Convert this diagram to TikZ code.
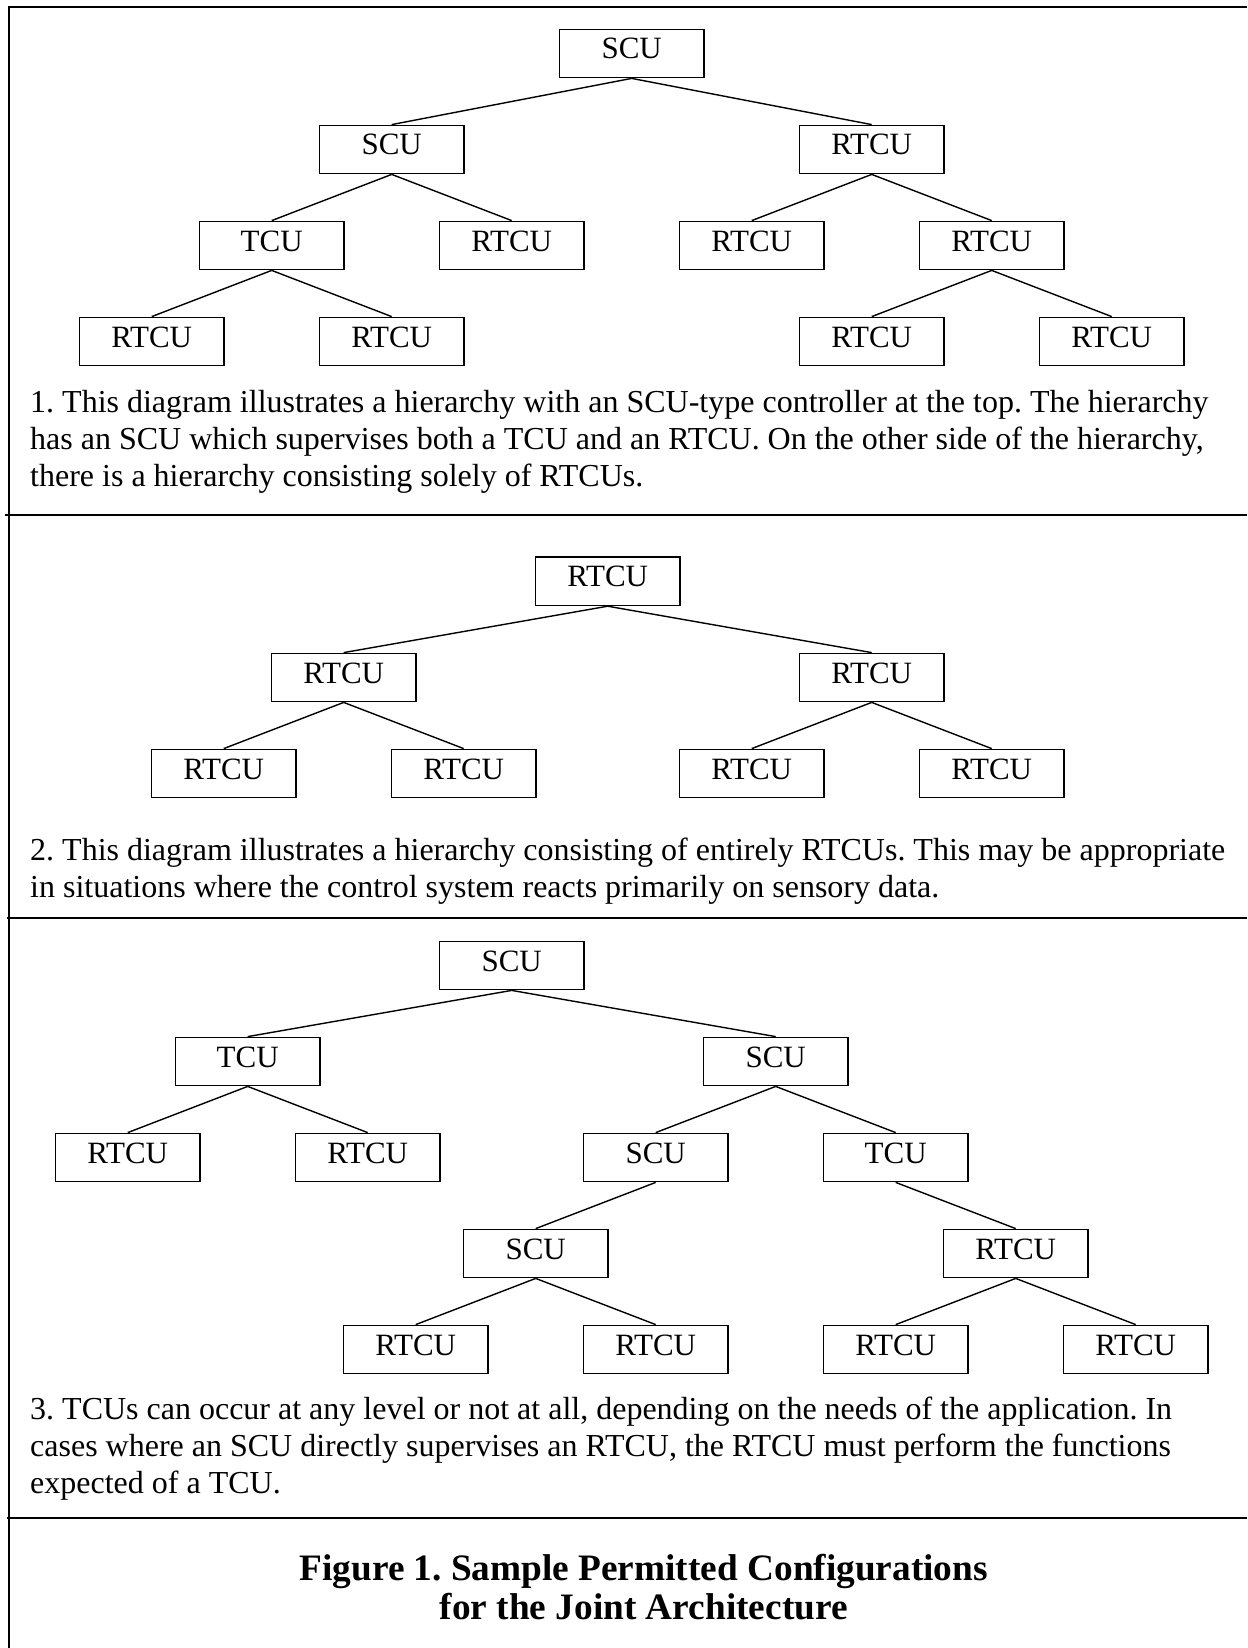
\documentclass[tikz,border=0pt]{standalone}
\usepackage{fontspec}
\setmainfont{Liberation Serif}
\frenchspacing
\begin{document}
\begin{tikzpicture}[x=1pt,y=-1pt,
  unit/.style={draw, line width=1.4pt, minimum width=144.7pt, minimum height=48.4pt,
    inner sep=0pt, font=\fontsize{31}{31}\selectfont, text height=21pt, text depth=10pt},
  link/.style={line width=1.4pt},
  rule/.style={line width=2pt},
  frame/.style={line width=2.6pt},
  caption/.style={anchor=north west, inner sep=0pt, align=left,
    font=\fontsize{32}{36.8}\selectfont},
  heading/.style={anchor=north, inner sep=0pt, align=center,
    font=\fontsize{37.3}{39}\selectfont\bfseries},
]
\useasboundingbox (0,0) rectangle (1247,1648);

% outer frame and panel separators
\draw[frame] (9,1648) -- (9,7) -- (1247,7);
\draw[rule] (5,515) -- (1247,515);
\draw[rule] (7,917.7) -- (1247,917.7);
\draw[rule] (7,1517.7) -- (1247,1517.7);

% ---------- configuration 1 ----------
\node[unit] (a0) at (631.7,53.5) {SCU};
\node[unit] (a1) at (391.7,149.5) {SCU};
\node[unit] (a2) at (871.7,149.5) {RTCU};
\node[unit] (a3) at (271.7,245.5) {TCU};
\node[unit] (a4) at (511.7,245.5) {RTCU};
\node[unit] (a5) at (751.7,245.5) {RTCU};
\node[unit] (a6) at (991.7,245.5) {RTCU};
\node[unit] (a7) at (151.7,341.5) {RTCU};
\node[unit] (a8) at (391.7,341.5) {RTCU};
\node[unit] (a9) at (871.7,341.5) {RTCU};
\node[unit] (a10) at (1111.7,341.5) {RTCU};
\foreach \p/\c in {a0/a1,a0/a2,a1/a3,a1/a4,a2/a5,a2/a6,a3/a7,a3/a8,a6/a9,a6/a10}
  \draw[link] (\p.south) -- (\c.north);
\node[caption] (t1) at (30,390) {1. This diagram illustrates a hierarchy with an SCU-type controller at the top. The hierarchy\\
has an SCU which supervises both a TCU and an RTCU. On the other side of the hierarchy,\\
there is a hierarchy consisting solely of RTCUs.};

% ---------- configuration 2 ----------
\node[unit] (b0) at (607.7,581.3) {RTCU};
\node[unit] (b1) at (343.7,677.5) {RTCU};
\node[unit] (b2) at (871.7,677.5) {RTCU};
\node[unit] (b3) at (223.7,773.5) {RTCU};
\node[unit] (b4) at (463.7,773.5) {RTCU};
\node[unit] (b5) at (751.7,773.5) {RTCU};
\node[unit] (b6) at (991.7,773.5) {RTCU};
\foreach \p/\c in {b0/b1,b0/b2,b1/b3,b1/b4,b2/b5,b2/b6}
  \draw[link] (\p.south) -- (\c.north);
\node[caption] (t2) at (30,838) {2. This diagram illustrates a hierarchy consisting of entirely RTCUs. This may be appropriate\\
in situations where the control system reacts primarily on sensory data.};

% ---------- configuration 3 ----------
\node[unit] (c0) at (511.7,965.5) {SCU};
\node[unit] (c1) at (247.7,1061.5) {TCU};
\node[unit] (c2) at (775.7,1061.5) {SCU};
\node[unit] (c3) at (127.7,1157.5) {RTCU};
\node[unit] (c4) at (367.7,1157.5) {RTCU};
\node[unit] (c5) at (655.7,1157.5) {SCU};
\node[unit] (c6) at (895.7,1157.5) {TCU};
\node[unit] (c7) at (535.7,1253.5) {SCU};
\node[unit] (c8) at (1015.7,1253.5) {RTCU};
\node[unit] (c9) at (415.7,1349.5) {RTCU};
\node[unit] (c10) at (655.7,1349.5) {RTCU};
\node[unit] (c11) at (895.7,1349.5) {RTCU};
\node[unit] (c12) at (1135.7,1349.5) {RTCU};
\foreach \p/\c in {c0/c1,c0/c2,c1/c3,c1/c4,c2/c5,c2/c6,c5/c7,c6/c8,c7/c9,c7/c10,c8/c11,c8/c12}
  \draw[link] (\p.south) -- (\c.north);
\node[caption] (t3) at (30,1397) {3. TCUs can occur at any level or not at all, depending on the needs of the application. In\\
cases where an SCU directly supervises an RTCU, the RTCU must perform the functions\\
expected of a TCU.};

% ---------- figure title ----------
\node[heading] (title) at (643.7,1554) {Figure 1. Sample Permitted Configurations\\for the Joint Architecture};
\end{tikzpicture}
\end{document}
